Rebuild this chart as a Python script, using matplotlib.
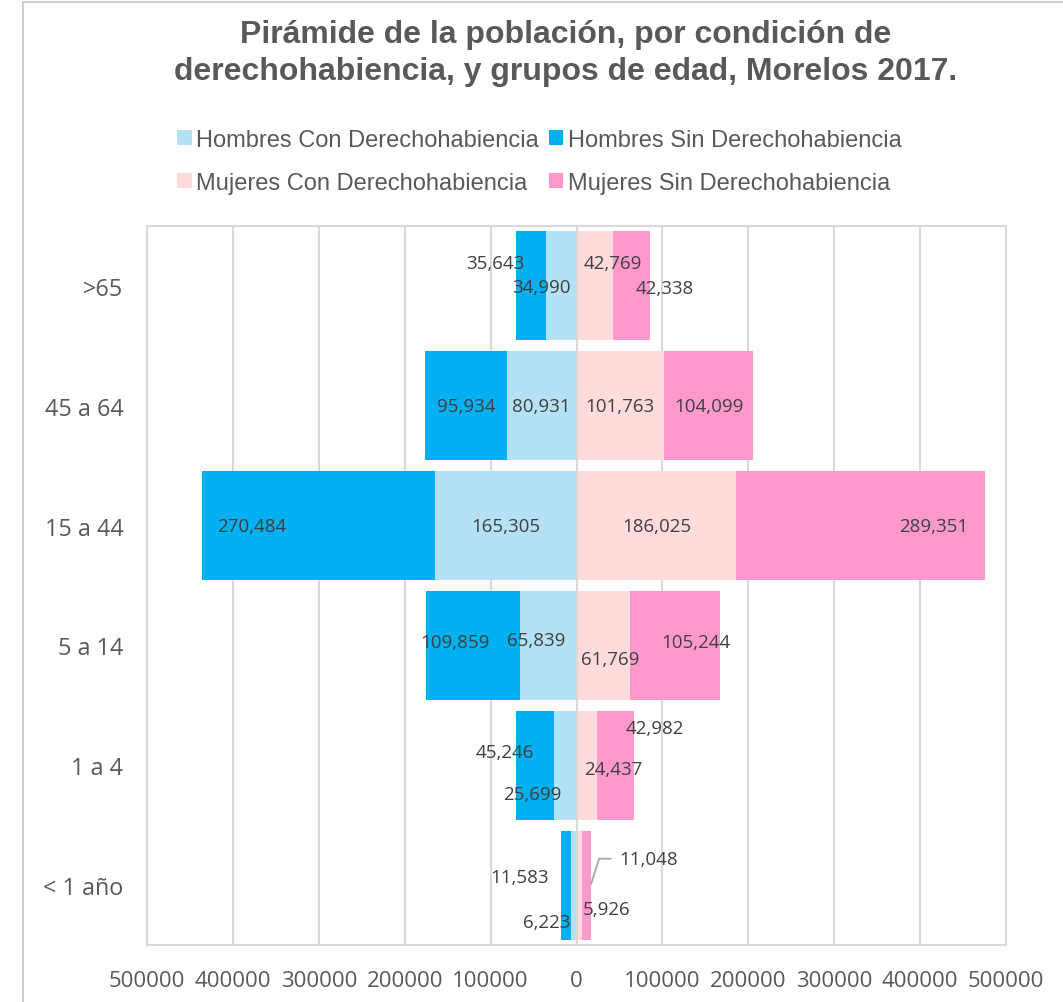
import matplotlib
matplotlib.use("Agg")
import matplotlib.pyplot as plt
from matplotlib.patches import Patch
from matplotlib.lines import Line2D
from matplotlib.ticker import FixedLocator, FuncFormatter

categories = [">65", "45 a 64", "15 a 44", "5 a 14", "1 a 4", "< 1 año"]
hombres_con = [34990, 80931, 165305, 65839, 25699, 6223]
hombres_sin = [35643, 95934, 270484, 109859, 45246, 11583]
mujeres_con = [42769, 101763, 186025, 61769, 24437, 5926]
mujeres_sin = [42338, 104099, 289351, 105244, 42982, 11048]
series_names = ["Hombres Con Derechohabiencia", "Hombres Sin Derechohabiencia",
                "Mujeres Con Derechohabiencia", "Mujeres Sin Derechohabiencia"]
ticks = [-500000, -400000, -300000, -200000, -100000, 0, 100000, 200000, 300000, 400000, 500000]

C_HC = "#B5E1F5"
C_HS = "#00B0F0"
C_MC = "#FFDBDB"
C_MS = "#FF99CC"
GRID = "#D9D9D9"
TXT = "#595959"
LBL = "#404040"

W, H = 1063, 1003
fig = plt.figure(figsize=(W / 100, H / 100), dpi=100)
fig.patch.set_facecolor("white")

# outer chart border (partially cropped)
fig.add_artist(Line2D([23 / W, 23 / W], [0, 1 - 3 / H], color="#C8C8C8", lw=1.3))
fig.add_artist(Line2D([23 / W, 1], [1 - 3 / H, 1 - 3 / H], color="#C8C8C8", lw=1.3))

ax = fig.add_axes([147 / W, 1 - 946 / H, 859 / W, 719 / H])
y = list(range(len(categories)))
bh = 0.91

neg_hc = [-v for v in hombres_con]
neg_hs = [-v for v in hombres_sin]
ax.barh(y, neg_hc, height=bh, left=0, color=C_HC, zorder=2)
ax.barh(y, neg_hs, height=bh, left=neg_hc, color=C_HS, zorder=2)
ax.barh(y, mujeres_con, height=bh, left=0, color=C_MC, zorder=2)
ax.barh(y, mujeres_sin, height=bh, left=mujeres_con, color=C_MS, zorder=2)
ax.axvline(0, color=GRID, lw=1.5, zorder=3)

ax.set_xlim(-500000, 500000)
ax.set_ylim(len(categories) - 0.5, -0.5)
ax.xaxis.set_major_locator(FixedLocator(ticks))
ax.xaxis.set_major_formatter(FuncFormatter(lambda v, p: f"{abs(int(v))}"))
ax.set_yticks(y)
ax.set_yticklabels(categories)
ax.grid(axis="x", color=GRID, lw=1.5, zorder=0)
ax.set_axisbelow(True)
for s in ax.spines.values():
    s.set_color(GRID)
    s.set_linewidth(1.5)
ax.tick_params(axis="both", length=0, colors=TXT)
ax.tick_params(axis="x", pad=18, labelsize=16)
ax.tick_params(axis="y", pad=17, labelsize=16.8)
for lab in ax.get_xticklabels() + ax.get_yticklabels():
    lab.set_fontfamily("Open Sans")
    lab.set_color(TXT)


def fmt(v):
    return f"{v:,}"


lab_kw = dict(ha="center", va="center", fontsize=13.5, color=LBL, family="Open Sans", zorder=5)
# label nudges from the segment centre (x in data units, y in category units)
off_hc = [(-23900, 0.01), (0, 0), (0, 0), (-14200, -0.045), (-38400, 0.24), (-31200, 0.31)]
off_hs = [(-42000, -0.19), (0, 0), (-77000, 0), (-20700, -0.03), (-35500, -0.11), (-54400, -0.07)]
off_mc = [(21000, -0.19), (0, 0), (0, 0), (8100, 0.115), (30300, 0.03), (32600, 0.2)]
off_ms = [(39100, 0.02), (0, 0), (85400, 0), (24100, -0.03), (45400, -0.31), (72200, -0.22)]

for i in y:
    hc, hs, mc, ms = hombres_con[i], hombres_sin[i], mujeres_con[i], mujeres_sin[i]
    ax.text(-hc / 2 + off_hc[i][0], i + off_hc[i][1], fmt(hc), **lab_kw)
    ax.text(-(hc + hs / 2) + off_hs[i][0], i + off_hs[i][1], fmt(hs), **lab_kw)
    ax.text(mc / 2 + off_mc[i][0], i + off_mc[i][1], fmt(mc), **lab_kw)
    ax.text(mc + ms / 2 + off_ms[i][0], i + off_ms[i][1], fmt(ms), **lab_kw)

# leader line for the small Mujeres Sin label in the last category
i = len(categories) - 1
end_x = mujeres_con[i] + mujeres_sin[i]
lx = mujeres_con[i] + mujeres_sin[i] / 2 + off_ms[i][0]
ly = i + off_ms[i][1]
ax.plot([end_x, lx - 57300, lx - 44000], [i - 0.01, ly, ly], color="#A6A6A6", lw=1.3, zorder=4,
        clip_on=False)

# title
for txt, yy in (("Pirámide de la población, por condición de", 35),
                ("derechohabiencia, y grupos de edad, Morelos 2017.", 72)):
    fig.text(566 / W, 1 - yy / H, txt, ha="center", va="center", fontsize=23,
             fontweight="bold", color=TXT, family="Liberation Sans")

handles = [Patch(facecolor=c) for c in (C_HC, C_MC, C_HS, C_MS)]
names = [series_names[0], series_names[2], series_names[1], series_names[3]]
fig.legend(handles, names, ncol=2, loc="upper left",
           bbox_to_anchor=(177 / W, 1 - 130 / H), frameon=False,
           borderpad=0, borderaxespad=0,
           prop={"family": "Liberation Sans", "size": 17},
           handlelength=0.62, handleheight=0.62, handletextpad=0.2,
           columnspacing=0.41, labelspacing=0.87, labelcolor=TXT)

fig.savefig("out.png", dpi=100)
